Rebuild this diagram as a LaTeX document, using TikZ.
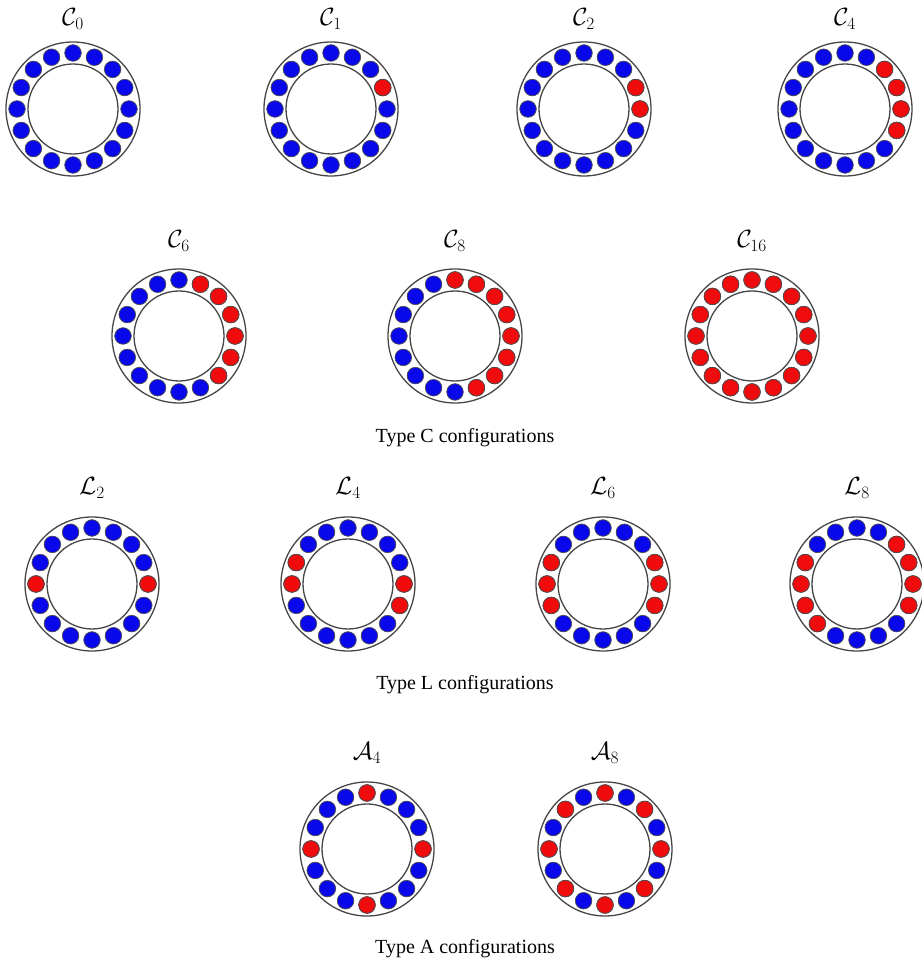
\documentclass[tikz,border=0pt]{standalone}
\usepackage{amsmath,amssymb}
\usepackage{fontspec}
\setmainfont{Liberation Serif}
\usepackage{tikz}
\usetikzlibrary{calc}
\definecolor{beadblue}{RGB}{8,8,235}
\definecolor{beadred}{RGB}{240,12,12}
\definecolor{ringgray}{RGB}{70,70,70}
\tikzset{
  ringline/.style={draw=ringgray,line width=1.3pt},
  bead/.style={draw=black!70,line width=0.7pt},
  cfglabel/.style={anchor=base,font=\fontsize{24}{28}\selectfont},
  caption/.style={anchor=base,font=\fontsize{20}{24}\selectfont}
}
\newcommand{\beadring}[2]{%
  \draw[ringline] (#1) circle (67) (#1) circle (45);
  \foreach \k in {0,...,15}
    \draw[bead,fill=beadblue] ($(#1)+(\k*22.5:56)$) circle (8.3);
  \if\relax\detokenize{#2}\relax\else
    \foreach \a in {#2}
      \draw[bead,fill=beadred] ($(#1)+(\a:56)$) circle (8.3);
  \fi
}

\begin{document}
\begin{tikzpicture}[x=1pt,y=1pt]
\useasboundingbox (0,0) rectangle (921,961);
% type C
\coordinate (C0) at (73,852);
\coordinate (C1) at (331,852);
\coordinate (C2) at (584,852);
\coordinate (C4) at (845,852);
\coordinate (C6) at (179,625);
\coordinate (C8) at (455,625);
\coordinate (C16) at (752,625);
\beadring{C0}{}
\beadring{C1}{22.5}
\beadring{C2}{22.5,0}
\beadring{C4}{45,22.5,0,-22.5}
\beadring{C6}{67.5,45,22.5,0,-22.5,-45}
\beadring{C8}{90,67.5,45,22.5,0,-22.5,-45,-67.5}
\beadring{C16}{0,22.5,...,337.5}
\node[cfglabel] (lC0) at (73,935) {$\mathcal{C}_0$};
\node[cfglabel] (lC1) at (331,935) {$\mathcal{C}_1$};
\node[cfglabel] (lC2) at (584,935) {$\mathcal{C}_2$};
\node[cfglabel] (lC4) at (845,935) {$\mathcal{C}_4$};
\node[cfglabel] (lC6) at (179,713) {$\mathcal{C}_6$};
\node[cfglabel] (lC8) at (455,713) {$\mathcal{C}_8$};
\node[cfglabel] (lC16) at (752,713) {$\mathcal{C}_{16}$};
\node[caption] (capC) at (465,518) {Type C configurations};
% type L
\coordinate (L2) at (92,377);
\coordinate (L4) at (348,377);
\coordinate (L6) at (603,377);
\coordinate (L8) at (857,377);
\beadring{L2}{0,180}
\beadring{L4}{157.5,180,0,-22.5}
\beadring{L6}{157.5,180,202.5,22.5,0,-22.5}
\beadring{L8}{157.5,180,202.5,225,45,22.5,0,-22.5}
\node[cfglabel] (lL2) at (92,466) {$\mathcal{L}_2$};
\node[cfglabel] (lL4) at (348,466) {$\mathcal{L}_4$};
\node[cfglabel] (lL6) at (603,466) {$\mathcal{L}_6$};
\node[cfglabel] (lL8) at (857,466) {$\mathcal{L}_8$};
\node[caption] (capL) at (465,271) {Type L configurations};
% type A
\coordinate (A4) at (367,112);
\coordinate (A8) at (605,112);
\beadring{A4}{0,90,180,270}
\beadring{A8}{0,45,...,315}
\node[cfglabel] (lA4) at (367,201) {$\mathcal{A}_4$};
\node[cfglabel] (lA8) at (605,201) {$\mathcal{A}_8$};
\node[caption] (capA) at (465,8) {Type A configurations};
\end{tikzpicture}
\end{document}
